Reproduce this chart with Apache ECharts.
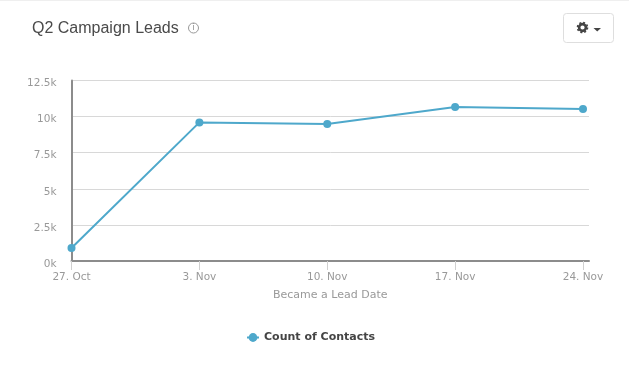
<!DOCTYPE html>
<html>
<head>
<meta charset="utf-8">
<style>
  html, body { margin: 0; padding: 0; background: #fff; }
  #chart { width: 629px; height: 370px; }
</style>
<script src="https://cdn.jsdelivr.net/npm/echarts@6/dist/echarts.min.js"></script>
</head>
<body>
<div id="chart"></div>
<script>
const categories = ['27. Oct', '3. Nov', '10. Nov', '17. Nov', '24. Nov']
const tickPositions = [0, 1, 2, 3, 4]
const leadCounts = [900, 9600, 9490, 10660, 10530]
const seriesName = 'Count of Contacts'

const chart = echarts.init(document.getElementById('chart'))
const labelFont = '"DejaVu Sans", sans-serif'

chart.setOption({
  animation: false,
  backgroundColor: '#fff',
  title: {
    text: 'Q2 Campaign Leads',
    left: 27,
    top: 16,
    textStyle: { color: '#4a4a4a', fontSize: 16, fontWeight: 'normal', fontFamily: '"Liberation Sans", sans-serif' }
  },
  grid: { left: 71.5, right: 40, top: 80.5, bottom: 109, containLabel: false },
  xAxis: {
    type: 'value',
    min: 0,
    max: 4.047,
    name: 'Became a Lead Date',
    nameLocation: 'middle',
    nameGap: 29,
    nameTextStyle: { color: '#999', fontSize: 11, fontFamily: labelFont },
    splitLine: { show: false },
    axisLine: { show: true, lineStyle: { color: '#8c8c8c', width: 2 } },
    axisTick: { show: true, length: 9, lineStyle: { color: '#d0d0d0', width: 1 }, customValues: tickPositions },
    axisLabel: {
      color: '#999',
      fontSize: 10.5,
      fontFamily: labelFont,
      margin: 11,
      customValues: tickPositions,
      formatter: (v) => categories[v]
    }
  },
  yAxis: {
    type: 'value',
    min: 0,
    max: 12500,
    interval: 2500,
    axisLine: { show: true, lineStyle: { color: '#8c8c8c', width: 2 } },
    axisTick: { show: false },
    splitLine: { lineStyle: { color: '#d8d8d8', width: 1 } },
    axisLabel: {
      color: '#999',
      fontSize: 10.5,
      fontFamily: labelFont,
      margin: 15,
      verticalAlign: 'top',
      lineHeight: 6,
      formatter: (v) => (v / 1000) + 'k'
    }
  },
  legend: {
    bottom: 22,
    left: 241,
    itemWidth: 12,
    itemHeight: 11,
    itemGap: 0,
    textStyle: { color: '#444', fontSize: 11, fontWeight: 'bold', fontFamily: labelFont },
    data: [seriesName]
  },
  series: [{
    name: seriesName,
    type: 'line',
    data: leadCounts.map((v, i) => [tickPositions[i], v]),
    symbol: 'circle',
    symbolSize: 8,
    clip: false,
    lineStyle: { color: '#4ea8cb', width: 2 },
    itemStyle: { color: '#4ea8cb' }
  }],
  graphic: [
    // strip along the top edge
    { type: 'rect', shape: { x: 0, y: 0, width: 629, height: 1 }, style: { fill: '#efefef' } },
    // info icon next to the title
    { type: 'circle', shape: { cx: 193.5, cy: 28, r: 5 }, style: { fill: 'none', stroke: '#999', lineWidth: 1 } },
    { type: 'text', style: { x: 193.5, y: 28, text: 'i', fill: '#888', fontSize: 8, fontFamily: labelFont, align: 'center', verticalAlign: 'middle' } },
    // settings button
    { type: 'rect', shape: { x: 563.5, y: 13.5, width: 50, height: 29, r: 3 }, style: { fill: '#fff', stroke: '#dedede', lineWidth: 1 } },
    // gear: ring plus a dashed ring for the teeth
    { type: 'circle', shape: { cx: 582.5, cy: 27.5, r: 3.4 }, style: { fill: 'none', stroke: '#444', lineWidth: 2.6 } },
    { type: 'circle', shape: { cx: 582.5, cy: 27.5, r: 5 }, style: { fill: 'none', stroke: '#444', lineWidth: 1.6, lineDash: [2, 1.93] } },
    { type: 'polygon', shape: { points: [[593.5, 28], [601, 28], [597.2, 31.5]] }, style: { fill: '#444' } }
  ]
})
</script>
</body>
</html>
